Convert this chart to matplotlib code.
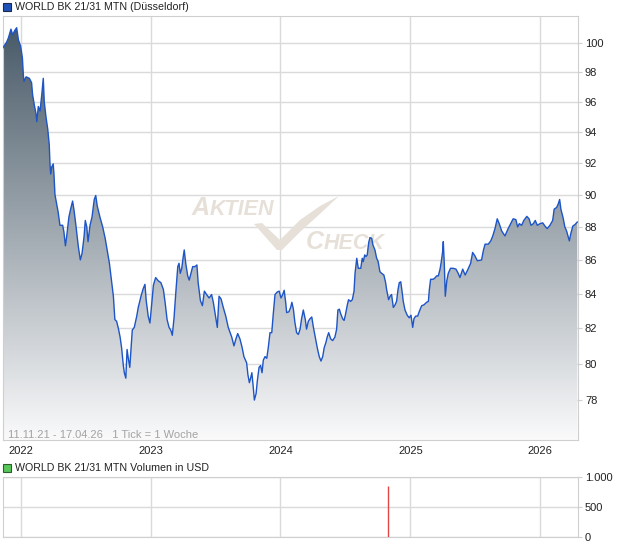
import numpy as np
import pandas as pd
import matplotlib
matplotlib.use('Agg')
import matplotlib.pyplot as plt
from matplotlib.patches import Rectangle, Polygon
from matplotlib.ticker import FixedLocator, NullLocator

plt.rcParams['font.family'] = ['Liberation Sans', 'DejaVu Sans']

# weekly closes, position given in weeks after 11.11.21
start = pd.Timestamp('2021-11-11')
end = pd.Timestamp('2026-04-18')
weeks = [
    0.0, 1.5, 2.2, 3.2, 3.9, 4.7, 5.5, 6.2, 7.1, 7.8,
    8.2, 8.4, 9.3, 10.6, 11.5, 11.9, 12.6, 13.3, 13.6, 14.2,
    14.9, 15.6, 16.2, 16.6, 17.3, 18.0, 18.6, 18.9, 19.2, 19.6,
    20.2, 20.5, 20.9, 21.6, 22.2, 22.9, 24.0, 24.5, 25.1, 25.6,
    26.5, 27.2, 28.0, 28.6, 29.4, 30.3, 31.1, 31.8, 32.6, 33.1,
    33.7, 34.2, 35.0, 35.8, 36.7, 37.3, 37.9, 39.0, 40.1, 41.1,
    41.9, 42.8, 43.3,
    44.4, 45.0, 45.7, 46.4, 47.1, 47.7, 48.4, 48.8, 49.4, 49.9,
    50.4, 51.0, 51.5, 52.0, 52.8, 53.8, 54.4, 55.5, 56.4, 57.1,
    57.6, 58.4, 59.1, 59.5, 60.5, 61.4, 62.5, 63.5, 64.5, 65.2,
    66.0, 66.8, 67.6, 68.1, 68.8, 69.5, 70.3, 70.8, 71.3, 71.9,
    72.5, 72.9, 73.5, 74.3, 74.9, 75.6, 76.3, 77.2, 78.0, 78.5,
    79.4, 80.2, 81.0, 81.9, 82.9, 83.9, 84.6, 85.5, 86.2, 86.9,
    87.7, 88.6, 89.6, 90.6,
    92.0, 92.9, 93.7, 94.4, 95.3, 96.2, 96.9, 98.0, 98.5, 99.1,
    99.6, 100.1, 100.6, 101.1, 101.8, 102.3, 103.0, 103.6, 104.2, 104.7,
    105.4, 106.1, 106.7, 107.4, 108.1, 108.7, 109.4, 110.3, 111.1, 111.8,
    112.5, 113.1, 113.7, 114.1, 115.0, 115.7, 116.2, 116.8, 117.4, 118.1,
    118.8, 119.5, 120.1, 120.8, 121.6, 122.1, 122.8, 123.5, 124.2, 124.8,
    125.6, 126.4, 127.2, 127.9, 128.6, 129.2, 129.9, 130.4, 131.0, 131.8,
    132.6, 133.5, 134.2, 134.7, 135.3,
    135.8, 136.6, 137.2, 137.7, 138.5, 139.0, 139.8, 140.5, 141.2, 141.6,
    142.3, 142.9, 143.9, 144.5, 144.9, 145.5, 146.0, 146.5, 147.1, 147.6,
    148.3, 148.8, 149.6, 150.3, 150.9, 151.6, 152.3, 153.2, 153.9, 154.3,
    155.1, 155.7, 156.3, 157.0, 157.7, 158.3, 158.9, 159.4, 160.0, 160.5,
    161.0, 161.7, 162.6, 163.4, 164.1, 164.8, 165.3, 166.0, 166.8, 167.4,
    168.4, 169.3, 170.4, 171.1, 171.5, 172.0, 173.1, 173.9, 174.4, 175.1,
    175.8, 176.3, 176.8, 177.1, 177.5, 177.9, 178.5, 179.1, 180.0, 181.1,
    182.2, 183.1,
    183.8, 184.9, 185.9, 187.2, 188.1, 188.9, 189.8, 190.8, 192.5, 193.2,
    193.9, 195.2, 196.2, 197.0, 197.9, 198.8, 199.6, 200.6, 201.9, 203.2,
    204.2, 205.2, 206.3, 207.0, 207.7, 208.6, 209.5, 210.7, 211.6, 212.4,
    213.3, 214.1, 214.9, 216.0, 217.1, 218.0, 218.9, 220.0, 221.1, 221.7,
    222.7, 223.4, 223.9, 224.4, 225.3, 226.0, 226.7, 227.8, 228.4, 229.2,
    230.1, 231.0,
]
prices = [
    99.7, 100.1, 100.4, 101.0, 100.6, 100.9, 101.1, 100.25, 99.8, 99.0,
    97.8, 97.4, 97.7, 97.6, 97.3, 96.5, 95.8, 95.2, 94.7, 95.7,
    95.4, 96.5, 97.6, 96.0, 95.0, 94.2, 93.2, 91.95, 91.3, 91.75,
    91.95, 91.3, 90.0, 89.4, 88.9, 88.1, 88.1, 87.7, 86.85, 87.4,
    88.6, 89.1, 89.6, 89.0, 88.0, 86.8, 86.0, 86.4, 87.4, 88.4,
    88.0, 87.1, 88.1, 88.6, 89.7, 89.95, 89.3, 88.6, 88.0, 87.3,
    86.6, 85.8, 85.2,
    83.85, 82.5, 82.4, 82.0, 81.5, 80.9, 79.9, 79.5, 79.2, 80.8,
    80.3, 79.8, 80.8, 81.9, 82.05, 82.7, 83.2, 83.85, 84.3, 84.55,
    83.6, 82.7, 82.3, 82.9, 84.5, 84.95, 84.75, 84.65, 84.25, 83.5,
    82.5, 82.05, 81.85, 81.6, 82.6, 84.05, 85.6, 85.8, 85.2, 85.5,
    86.2, 86.6, 85.8, 85.05, 84.8, 85.2, 85.6, 85.6, 85.7, 84.65,
    83.6, 83.3, 84.15, 83.95, 83.75, 83.95, 83.5, 82.7, 82.05, 83.85,
    83.7, 83.2, 82.7, 82.05,
    81.5, 81.0, 81.4, 81.7, 81.4, 80.9, 80.4, 80.05, 79.4, 78.95,
    79.2, 79.5, 78.8, 78.0, 78.35, 79.05, 79.8, 79.9, 79.5, 80.2,
    80.4, 80.3, 80.9, 81.75, 81.75, 82.8, 83.95, 84.1, 84.15, 83.75,
    83.95, 84.2, 83.5, 82.9, 82.95, 83.2, 83.5, 83.1, 82.35, 81.75,
    81.65, 81.95, 82.55, 83.05, 82.5, 81.95, 82.4, 82.55, 82.65, 82.1,
    81.5, 80.9, 80.4, 80.15, 80.4, 80.9, 81.2, 81.5, 81.75, 81.4,
    81.3, 81.5, 81.95, 83.05, 83.1,
    82.85, 82.55, 82.45, 82.75, 83.35, 83.65, 83.55, 83.65, 84.15, 85.2,
    86.1, 85.5, 85.5, 86.1, 85.9, 86.3, 86.2, 86.3, 87.05, 87.35,
    87.3, 86.9, 86.6, 86.1, 85.9, 85.3, 85.2, 85.1, 84.65, 84.25,
    83.65, 83.85, 83.95, 83.2, 83.35, 83.55, 84.25, 84.65, 84.7, 84.15,
    83.55, 83.05, 82.75, 82.6, 82.75, 82.05, 82.55, 82.7, 82.7, 82.95,
    83.3, 83.35, 83.5, 83.55, 84.25, 84.85, 84.85, 84.95, 85.05, 85.05,
    85.45, 85.9, 86.45, 87.1, 85.8, 83.85, 84.75, 85.2, 85.5, 85.5,
    85.45, 85.2,
    84.95, 85.45, 85.1, 85.5, 85.8, 86.45, 86.25, 85.95, 86.0, 86.55,
    86.95, 86.95, 87.15, 87.45, 87.9, 88.5, 88.2, 87.75, 87.45, 87.9,
    88.2, 88.5, 88.45, 88.0, 88.2, 88.1, 88.4, 88.65, 88.5, 88.1,
    88.2, 88.4, 88.1, 88.2, 88.25, 88.05, 87.9, 88.1, 88.4, 89.1,
    89.2, 89.45, 89.7, 89.1, 88.55, 88.0, 87.75, 87.15, 87.6, 88.05,
    88.15, 88.3,
]
vol_weeks = [155]
vol_usd = [850]

year_ticks = ['2022-01-01', '2023-01-01', '2024-01-01', '2025-01-01', '2026-01-01']
year_labels = ['2022', '2023', '2024', '2025', '2026']
price_ticks = [78, 80, 82, 84, 86, 88, 90, 92, 94, 96, 98, 100]
vol_ticks = [0, 500, 1000]
vol_labels = ['0', '500', '1.000']

dates = start + pd.to_timedelta(np.array(weeks) * 7, unit='D')
vol_dates = start + pd.to_timedelta(np.array(vol_weeks) * 7, unit='D')
years = pd.to_datetime(year_ticks)

W, H = 620, 546
fig = plt.figure(figsize=(W / 100, H / 100), dpi=100)


def fx(px):
    return px / W


def fy(py):
    return 1 - py / H


grid = '#dadada'
txt = '#222222'

# main price panel
ax = fig.add_axes([fx(3), fy(440), fx(578) - fx(3), fy(16) - fy(440)])
ax.set_yscale('log')

top_c = np.array([68, 86, 100]) / 255
bot_c = np.array([250, 250, 251]) / 255
t = np.linspace(0, 1, 256)[:, None]
grad = (top_c + (bot_c - top_c) * t)[:, None, :]
im = ax.imshow(grad, extent=[0, 1, 0, 1], transform=ax.transAxes,
               aspect='auto', origin='upper', zorder=1, interpolation='bilinear')
poly = ax.fill_between(dates, prices, 60, facecolor='none', edgecolor='none')
im.set_clip_path(poly.get_paths()[0], transform=ax.transData)
ax.plot(dates, prices, color='#1d55c6', lw=1.0, zorder=3)

ax.set_xlim(start, end)
ax.set_ylim(75.86, 101.93)
ax.yaxis.set_major_locator(FixedLocator(price_ticks))
ax.yaxis.set_minor_locator(NullLocator())
ax.set_yticklabels([str(v) for v in price_ticks])
ax.yaxis.tick_right()
ax.set_xticks(years)
ax.set_xticklabels(year_labels)
ax.grid(True, color=grid, lw=1, zorder=0)
ax.set_axisbelow(True)
for s in ax.spines.values():
    s.set_color('#cfcfcf')
ax.tick_params(axis='y', length=3, color='#cfcfcf', labelsize=8, labelcolor=txt, pad=2)
ax.tick_params(axis='x', length=0, labelsize=8, labelcolor=txt, pad=4)

# watermark, behind the filled area
wm = '#e6e0d8'
wm_kw = dict(style='italic', weight='bold', color=wm, va='baseline',
             transform=fig.transFigure, zorder=0.8)
ax.text(fx(192), fy(215), 'A', fontsize=18, **wm_kw)
ax.text(fx(210), fy(215), 'KTIEN', fontsize=15.5, **wm_kw)
ax.text(fx(306), fy(249), 'C', fontsize=18, **wm_kw)
ax.text(fx(324), fy(249), 'HECK', fontsize=15.5, **wm_kw)
check = [(254, 224), (262, 223), (280, 240), (300, 220), (320, 206), (339, 196),
         (322, 212), (300, 232), (282, 250), (277, 250)]
ax.add_patch(Polygon([(fx(a), fy(b)) for a, b in check], closed=True,
                     transform=fig.transFigure, facecolor=wm, edgecolor='none', zorder=0.8))

fig.text(fx(8), fy(435), '11.11.21 - 17.04.26   1 Tick = 1 Woche',
         fontsize=8, color='#a3a3a3', va='center')

# legend boxes / titles
fig.add_artist(Rectangle((fx(3), fy(11)), 8 / W, 8 / H, transform=fig.transFigure,
                         facecolor='#1f52b8', edgecolor='#1b2a4e', lw=0.8))
fig.text(fx(15), fy(7), 'WORLD BK 21/31 MTN (Düsseldorf)', fontsize=7.7, color=txt, va='center')
fig.add_artist(Rectangle((fx(3), fy(472)), 8 / W, 8 / H, transform=fig.transFigure,
                         facecolor='#58c658', edgecolor='#2b5e2b', lw=0.8))
fig.text(fx(15), fy(468), 'WORLD BK 21/31 MTN Volumen in USD', fontsize=7.7, color=txt, va='center')

# volume panel
ax2 = fig.add_axes([fx(3), fy(537), fx(578) - fx(3), fy(477) - fy(537)])
ax2.vlines(vol_dates, 0, vol_usd, color='#e04646', lw=1.0, zorder=3)
ax2.set_xlim(start, end)
ax2.set_ylim(0, 1000)
ax2.set_yticks(vol_ticks)
ax2.set_yticklabels(vol_labels)
ax2.yaxis.tick_right()
ax2.set_xticks(years)
ax2.tick_params(axis='x', length=0, labelbottom=False)
ax2.tick_params(axis='y', length=3, color='#cfcfcf', labelsize=8, labelcolor=txt, pad=2)
ax2.grid(True, color=grid, lw=1, zorder=0)
ax2.set_axisbelow(True)
for s in ax2.spines.values():
    s.set_color('#cfcfcf')

fig.savefig('out.png', dpi=100)
